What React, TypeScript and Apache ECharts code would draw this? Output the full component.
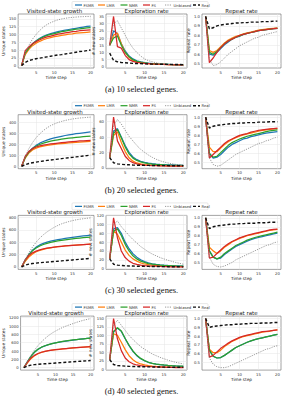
import React, { useEffect, useRef } from "react";
import * as echarts from "echarts";

const steps = [1, 2, 3, 4, 5, 6, 7, 8, 9, 10, 11, 12, 13, 14, 15, 16, 17, 18, 19, 20];
const methods = ["FSMR", "LMR", "NMR", "FS", "Unbiased", "Real"];
const captions = ["(a) 10 selected genes.", "(b) 20 selected genes.", "(c) 30 selected genes.", "(d) 40 selected genes."];
const panelTitles = ["Visited-state growth", "Exploration rate", "Repeat rate"];
const yNames = ["Unique states", "# new states", "Repeat rate"];
const xTicks = [5, 10, 15, 20];

const growthTicks = [
  [0, 25, 50, 75, 100, 125, 150],
  [0, 100, 200, 300, 400],
  [0, 200, 400, 600, 800],
  [0, 200, 400, 600, 800, 1000, 1200],
];
const explTicks = [
  [0, 5, 10, 15, 20, 25, 30, 35],
  [0, 20, 40, 60],
  [0, 20, 40, 60, 80, 100, 120],
  [0, 25, 50, 75, 100, 125, 150],
];
const repeatTicks = [0.5, 0.6, 0.7, 0.8, 0.9, 1.0];

// ---- (a) 10 genes ----
const growth10 = {
  FSMR: [0, 40, 56, 70, 80, 88, 94, 99, 103, 106, 109, 112, 114, 116, 118, 120, 122, 124, 126, 127],
  LMR: [0, 35, 52, 64, 72, 78, 83, 87, 90, 93, 95, 97, 99, 101, 102, 104, 105, 106, 107, 108],
  NMR: [0, 40, 56, 69, 78, 86, 92, 97, 100, 103, 106, 109, 111, 113, 115, 117, 118, 120, 121, 122],
  FS: [0, 48, 60, 70, 77, 83, 88, 92, 95, 98, 101, 103, 105, 107, 109, 110, 112, 113, 114, 115],
  Unbiased: [0, 40, 65, 85, 100, 113, 124, 132, 138, 143, 147, 150, 152, 154, 155, 156, 157, 157.5, 158, 158],
  Real: [0, 10, 16, 19, 22, 24, 26, 28, 30, 32, 34, 35, 37, 39, 41, 43, 45, 46, 48, 50],
};
const expl10 = {
  FSMR: [15, 25, 23, 16, 11, 7.5, 5.5, 4.2, 3.4, 2.9, 2.5, 2.2, 2.0, 1.9, 1.8, 1.7, 1.6, 1.5, 1.4, 1.3],
  LMR: [15, 22, 23.5, 16, 10, 6.5, 4.5, 3.5, 2.9, 2.5, 2.2, 2.0, 1.9, 1.8, 1.7, 1.6, 1.5, 1.4, 1.3, 1.2],
  NMR: [15, 20, 21.5, 15, 10, 7, 5, 3.8, 3.2, 2.7, 2.4, 2.2, 2.0, 1.9, 1.8, 1.7, 1.6, 1.5, 1.4, 1.3],
  FS: [15, 35, 14, 13, 8, 5, 3.8, 3.1, 2.7, 2.4, 2.2, 2.0, 1.9, 1.8, 1.7, 1.6, 1.5, 1.4, 1.3, 1.2],
  Unbiased: [15, 30, 32, 27, 22, 17, 13, 10, 7.5, 5.5, 4.3, 3.5, 2.8, 2.3, 1.9, 1.6, 1.3, 1.1, 1.0, 0.9],
  Real: [9.5, 4.5, 3.5, 3, 2.8, 2.6, 2.4, 2.3, 2.2, 2.1, 2, 1.9, 1.9, 1.8, 1.8, 1.7, 1.7, 1.6, 1.6, 1.5],
};
const repeat10 = {
  FSMR: [1.0, 0.6, 0.59, 0.62, 0.66, 0.7, 0.73, 0.76, 0.78, 0.79, 0.81, 0.82, 0.83, 0.84, 0.85, 0.855, 0.86, 0.865, 0.87, 0.875],
  LMR: [1.0, 0.64, 0.62, 0.64, 0.68, 0.72, 0.75, 0.77, 0.79, 0.8, 0.815, 0.825, 0.835, 0.845, 0.855, 0.86, 0.865, 0.87, 0.875, 0.88],
  NMR: [1.0, 0.62, 0.6, 0.63, 0.67, 0.71, 0.74, 0.76, 0.78, 0.795, 0.81, 0.82, 0.83, 0.84, 0.85, 0.855, 0.86, 0.865, 0.87, 0.875],
  FS: [1.0, 0.51, 0.56, 0.62, 0.67, 0.71, 0.74, 0.76, 0.78, 0.8, 0.81, 0.82, 0.83, 0.84, 0.85, 0.855, 0.86, 0.865, 0.87, 0.875],
  Unbiased: [1.0, 0.55, 0.48, 0.49, 0.52, 0.56, 0.6, 0.63, 0.66, 0.69, 0.71, 0.73, 0.75, 0.77, 0.78, 0.8, 0.81, 0.82, 0.83, 0.84],
  Real: [1.0, 0.87, 0.88, 0.9, 0.91, 0.915, 0.92, 0.925, 0.93, 0.93, 0.935, 0.935, 0.94, 0.94, 0.94, 0.945, 0.945, 0.945, 0.95, 0.95],
};

// ---- (b) 20 genes ----
const growth20 = {
  FSMR: [0, 80, 130, 165, 190, 210, 225, 238, 249, 258, 266, 273, 280, 286, 291, 296, 300, 304, 308, 312],
  LMR: [0, 75, 120, 148, 165, 176, 184, 190, 195, 199, 203, 206, 209, 212, 215, 218, 220, 222, 224, 226],
  NMR: [0, 80, 128, 160, 182, 198, 210, 220, 228, 235, 241, 246, 251, 255, 259, 263, 266, 269, 272, 275],
  FS: [0, 90, 135, 160, 175, 185, 192, 198, 203, 207, 211, 215, 218, 221, 224, 227, 230, 232, 234, 236],
  Unbiased: [0, 90, 160, 215, 260, 295, 325, 350, 370, 385, 398, 408, 417, 424, 430, 435, 439, 442, 445, 447],
  Real: [0, 15, 25, 32, 38, 43, 48, 53, 57, 61, 65, 69, 73, 77, 81, 85, 89, 93, 97, 102],
};
const expl20 = {
  FSMR: [13, 48, 51, 40, 29, 20, 14, 10.5, 8.3, 7, 6, 5.3, 4.8, 4.4, 4.1, 3.8, 3.6, 3.4, 3.2, 3.1],
  LMR: [13, 42, 47, 33, 21, 13, 8.5, 6.2, 4.9, 4.1, 3.6, 3.3, 3.0, 2.8, 2.6, 2.5, 2.4, 2.3, 2.2, 2.1],
  NMR: [13, 45, 50, 39, 27, 18, 12.5, 9.5, 7.5, 6.2, 5.3, 4.7, 4.2, 3.9, 3.6, 3.4, 3.2, 3.0, 2.9, 2.8],
  FS: [13, 66, 35, 25, 15, 9.5, 6.5, 5, 4, 3.4, 3.0, 2.8, 2.6, 2.4, 2.3, 2.2, 2.1, 2.0, 2.0, 1.9],
  Unbiased: [13, 55, 63, 57, 49, 41, 35, 29, 24, 20, 16.5, 13.5, 11, 9, 7.5, 6.2, 5.2, 4.4, 3.8, 3.3],
  Real: [13, 6.5, 5, 4.5, 4, 3.8, 3.5, 3.3, 3.2, 3.0, 3.0, 2.9, 2.8, 2.8, 2.7, 2.7, 2.6, 2.6, 2.5, 2.5],
};
const repeat20 = {
  FSMR: [1.0, 0.6, 0.55, 0.56, 0.59, 0.63, 0.67, 0.7, 0.72, 0.74, 0.76, 0.77, 0.785, 0.795, 0.805, 0.815, 0.825, 0.83, 0.835, 0.84],
  LMR: [1.0, 0.67, 0.62, 0.62, 0.66, 0.7, 0.73, 0.755, 0.775, 0.79, 0.805, 0.815, 0.825, 0.835, 0.845, 0.855, 0.86, 0.865, 0.87, 0.875],
  NMR: [1.0, 0.6, 0.56, 0.57, 0.61, 0.65, 0.69, 0.72, 0.74, 0.76, 0.775, 0.79, 0.8, 0.81, 0.82, 0.83, 0.84, 0.85, 0.855, 0.86],
  FS: [1.0, 0.55, 0.59, 0.63, 0.67, 0.71, 0.74, 0.76, 0.78, 0.8, 0.81, 0.82, 0.835, 0.845, 0.855, 0.86, 0.865, 0.87, 0.875, 0.88],
  Unbiased: [1.0, 0.55, 0.48, 0.46, 0.47, 0.5, 0.53, 0.56, 0.59, 0.61, 0.63, 0.65, 0.67, 0.69, 0.71, 0.72, 0.74, 0.75, 0.77, 0.78],
  Real: [1.0, 0.88, 0.9, 0.91, 0.915, 0.92, 0.925, 0.93, 0.93, 0.935, 0.935, 0.94, 0.94, 0.94, 0.945, 0.945, 0.945, 0.95, 0.95, 0.95],
};

// ---- (c) 30 genes ----
const growth30 = {
  FSMR: [0, 110, 200, 270, 320, 355, 380, 400, 415, 428, 440, 450, 460, 470, 478, 486, 493, 500, 506, 512],
  LMR: [0, 90, 160, 210, 245, 268, 285, 298, 309, 318, 326, 333, 339, 344, 349, 354, 358, 362, 366, 370],
  NMR: [0, 110, 195, 260, 305, 338, 362, 380, 395, 408, 419, 429, 438, 446, 453, 460, 466, 472, 477, 482],
  FS: [0, 115, 185, 228, 255, 275, 290, 302, 312, 320, 327, 333, 338, 343, 348, 352, 356, 360, 364, 368],
  Unbiased: [0, 120, 230, 320, 400, 465, 520, 565, 605, 640, 670, 695, 715, 732, 747, 760, 770, 778, 785, 792],
  Real: [0, 30, 45, 55, 62, 68, 73, 78, 83, 88, 93, 98, 103, 108, 113, 118, 123, 128, 133, 138],
};
const expl30 = {
  FSMR: [22, 90, 93, 80, 60, 45, 34, 26, 20, 16, 13, 11, 9.5, 8.5, 7.8, 7.2, 6.7, 6.3, 6.0, 5.8],
  LMR: [22, 85, 78, 60, 42, 30, 22, 17, 13, 10.5, 9, 8, 7.2, 6.6, 6.1, 5.7, 5.3, 5, 4.8, 4.6],
  NMR: [22, 85, 90, 75, 55, 40, 29, 22, 17, 14, 11.5, 10, 9, 8.2, 7.5, 7, 6.5, 6.1, 5.8, 5.5],
  FS: [22, 115, 70, 40, 25, 17, 12, 9.5, 8, 7, 6.3, 5.8, 5.4, 5.0, 4.7, 4.4, 4.2, 4.0, 3.9, 3.8],
  Unbiased: [22, 100, 108, 95, 85, 75, 66, 58, 50, 44, 38, 33, 29, 25, 22, 19, 16.5, 14, 12, 10],
  Real: [22, 10, 8, 7, 6.5, 6, 5.8, 5.5, 5.3, 5.1, 5, 4.8, 4.7, 4.6, 4.5, 4.4, 4.3, 4.2, 4.1, 4],
};
const repeat30 = {
  FSMR: [1.0, 0.63, 0.56, 0.54, 0.55, 0.59, 0.62, 0.65, 0.68, 0.7, 0.72, 0.74, 0.755, 0.77, 0.78, 0.79, 0.8, 0.81, 0.82, 0.83],
  LMR: [1.0, 0.67, 0.63, 0.6, 0.63, 0.67, 0.7, 0.73, 0.75, 0.77, 0.785, 0.8, 0.81, 0.82, 0.83, 0.84, 0.85, 0.86, 0.865, 0.87],
  NMR: [1.0, 0.63, 0.56, 0.54, 0.56, 0.6, 0.63, 0.66, 0.69, 0.71, 0.73, 0.75, 0.765, 0.78, 0.79, 0.8, 0.81, 0.82, 0.83, 0.84],
  FS: [1.0, 0.55, 0.56, 0.6, 0.64, 0.68, 0.71, 0.735, 0.755, 0.775, 0.79, 0.805, 0.815, 0.825, 0.835, 0.845, 0.855, 0.865, 0.87, 0.875],
  Unbiased: [1.0, 0.56, 0.48, 0.455, 0.45, 0.46, 0.48, 0.5, 0.53, 0.55, 0.57, 0.59, 0.61, 0.63, 0.65, 0.67, 0.69, 0.7, 0.72, 0.73],
  Real: [1.0, 0.88, 0.9, 0.91, 0.915, 0.92, 0.925, 0.93, 0.93, 0.935, 0.935, 0.94, 0.94, 0.94, 0.945, 0.945, 0.945, 0.95, 0.95, 0.95],
};

// ---- (d) 40 genes ----
const growth40 = {
  FSMR: [0, 140, 270, 370, 440, 490, 525, 553, 576, 595, 612, 627, 640, 652, 663, 673, 683, 692, 701, 710],
  LMR: [0, 115, 215, 285, 335, 368, 391, 407, 420, 431, 441, 450, 458, 466, 473, 480, 486, 492, 498, 504],
  NMR: [0, 140, 270, 372, 442, 492, 527, 555, 578, 597, 614, 629, 642, 654, 665, 675, 685, 694, 703, 712],
  FS: [0, 130, 230, 295, 340, 370, 392, 408, 421, 432, 442, 451, 459, 467, 474, 481, 487, 493, 499, 505],
  Unbiased: [0, 150, 290, 420, 530, 620, 700, 770, 830, 880, 925, 965, 1000, 1030, 1060, 1090, 1115, 1140, 1160, 1180],
  Real: [0, 40, 60, 72, 80, 87, 93, 99, 105, 111, 117, 123, 129, 135, 141, 147, 153, 159, 165, 171],
};
const expl40 = {
  FSMR: [28, 110, 122, 112, 90, 70, 53, 40, 31, 25, 20, 17, 15, 13.5, 12.3, 11.3, 10.5, 9.8, 9.2, 8.7],
  LMR: [28, 105, 100, 80, 58, 40, 28, 20, 15.5, 12.5, 10.5, 9.2, 8.2, 7.5, 6.9, 6.4, 6.0, 5.7, 5.4, 5.1],
  NMR: [28, 112, 123, 113, 91, 71, 54, 41, 32, 25.5, 20.5, 17.5, 15.3, 13.7, 12.5, 11.5, 10.7, 10, 9.4, 8.9],
  FS: [28, 150, 90, 55, 33, 22, 16, 12.5, 10.5, 9, 8, 7.3, 6.7, 6.3, 5.9, 5.5, 5.2, 5.0, 4.8, 4.6],
  Unbiased: [28, 130, 145, 130, 115, 100, 88, 77, 67, 59, 52, 45, 40, 35, 31, 27, 23.5, 20.5, 18, 15.5],
  Real: [28, 14, 11, 10, 9, 8.5, 8, 7.7, 7.4, 7.1, 6.9, 6.7, 6.5, 6.3, 6.1, 6, 5.9, 5.8, 5.7, 5.6],
};
const repeat40 = {
  FSMR: [1.0, 0.64, 0.57, 0.55, 0.555, 0.58, 0.61, 0.64, 0.67, 0.69, 0.71, 0.73, 0.745, 0.76, 0.77, 0.78, 0.79, 0.8, 0.81, 0.82],
  LMR: [1.0, 0.65, 0.61, 0.61, 0.64, 0.68, 0.71, 0.74, 0.76, 0.78, 0.795, 0.805, 0.815, 0.825, 0.835, 0.845, 0.85, 0.855, 0.865, 0.87],
  NMR: [1.0, 0.64, 0.57, 0.55, 0.555, 0.58, 0.61, 0.64, 0.67, 0.69, 0.71, 0.73, 0.745, 0.76, 0.77, 0.78, 0.79, 0.8, 0.81, 0.82],
  FS: [1.0, 0.56, 0.58, 0.62, 0.66, 0.69, 0.72, 0.745, 0.765, 0.785, 0.8, 0.81, 0.82, 0.83, 0.84, 0.85, 0.855, 0.86, 0.865, 0.87],
  Unbiased: [1.0, 0.55, 0.48, 0.45, 0.44, 0.44, 0.45, 0.47, 0.49, 0.51, 0.53, 0.55, 0.57, 0.59, 0.61, 0.63, 0.65, 0.66, 0.68, 0.69],
  Real: [1.0, 0.9, 0.91, 0.915, 0.92, 0.925, 0.93, 0.93, 0.935, 0.935, 0.94, 0.94, 0.945, 0.945, 0.945, 0.95, 0.95, 0.95, 0.955, 0.955],
};

const panels: Record<string, number[]>[][] = [
  [growth10, expl10, repeat10],
  [growth20, expl20, repeat20],
  [growth30, expl30, repeat30],
  [growth40, expl40, repeat40],
];

const colors: Record<string, string> = {
  FSMR: "#1f77b4",
  LMR: "#ff7f0e",
  NMR: "#2ca02c",
  FS: "#d62728",
  Unbiased: "#7f7f7f",
  Real: "#111111",
};

const ROW_H = 100.7;
const GRID_TOP = 14;
const GRID_H = 54;
const gridLeft = [
  [15, 106, 202],
  [16, 106, 202],
  [16, 106, 202],
  [18, 106, 202],
];
const gridRight = [94, 187, 281];
const FONT = "DejaVu Sans";
// legend layout (icon start x for each legend entry)
const legendIconX = [75, 98, 120.5, 143, 165, 193];
const LEGEND_BOX = { x: 72, w: 136, y: 1.5, h: 7 };

function dashFor(m: string): number[] | null {
  if (m === "Unbiased") return [1.2, 1.2];
  if (m === "Real") return [3, 2];
  return null;
}
function widthFor(m: string) {
  if (m === "Unbiased") return 0.8;
  if (m === "Real") return 1.4;
  return 1.25;
}

export default function App() {
  const ref = useRef<HTMLDivElement>(null);
  useEffect(() => {
    if (!ref.current) return;
    const chart = echarts.init(ref.current, undefined, { renderer: "svg" });
    const grid: any[] = [];
    const xAxis: any[] = [];
    const yAxis: any[] = [];
    const series: any[] = [];
    const graphic: any[] = [];

    for (let r = 0; r < 4; r++) {
      const off = r * ROW_H;
      // legend (drawn as graphic)
      graphic.push({
        type: "rect",
        shape: { x: LEGEND_BOX.x, y: off + LEGEND_BOX.y, width: LEGEND_BOX.w, height: LEGEND_BOX.h, r: 1 },
        style: { fill: "#fff", stroke: "#d0d0d0", lineWidth: 0.5 },
        z: 10,
      });
      methods.forEach((m, i) => {
        const x0 = legendIconX[i];
        const dash = dashFor(m);
        graphic.push({
          type: "line",
          shape: { x1: x0, y1: off + 5, x2: x0 + 7, y2: off + 5 },
          style: { stroke: colors[m], lineWidth: widthFor(m), lineDash: dash || undefined },
          z: 11,
        });
        graphic.push({
          type: "text",
          x: x0 + 8.5,
          y: off + 5,
          style: { text: m, fontSize: 3.8, fontFamily: FONT, fill: "#333", align: "left", verticalAlign: "middle" },
          z: 11,
        });
      });
      graphic.push({
        type: "text",
        x: 141.5,
        y: off + 89,
        style: {
          text: captions[r],
          fontSize: 8.5,
          fontFamily: "Liberation Serif",
          fill: "#111",
          align: "center",
          verticalAlign: "middle",
        },
      });
      for (let p = 0; p < 3; p++) {
        const g = r * 3 + p;
        const left = gridLeft[r][p];
        const width = gridRight[p] - left;
        grid.push({
          left,
          top: off + GRID_TOP,
          width,
          height: GRID_H,
          show: true,
          borderColor: "#666",
          borderWidth: 0.6,
          backgroundColor: "#fff",
        });
        graphic.push({
          type: "text",
          x: left + width / 2,
          y: off + GRID_TOP - 3,
          style: {
            text: panelTitles[p],
            fontSize: 5.5,
            fontFamily: FONT,
            fill: "#222",
            align: "center",
            verticalAlign: "middle",
          },
        });
        const data = panels[r][p];
        let lo = Infinity;
        let hi = -Infinity;
        methods.forEach((m) => data[m].forEach((v) => { lo = Math.min(lo, v); hi = Math.max(hi, v); }));
        const pad = (hi - lo) * 0.05;
        const ticks = p === 0 ? growthTicks[r] : p === 1 ? explTicks[r] : repeatTicks;
        xAxis.push({
          type: "value",
          gridIndex: g,
          min: 0.05,
          max: 20.95,
          axisLine: { show: false },
          axisTick: { show: false, customValues: xTicks },
          axisLabel: { customValues: xTicks, fontSize: 3.8, margin: 2, color: "#333", fontFamily: FONT },
          splitLine: { show: true, lineStyle: { color: "#e4e4e4", width: 0.5 } },
          name: "Time step",
          nameLocation: "middle",
          nameGap: 7.5,
          nameTextStyle: { fontSize: 4.3, color: "#222", fontFamily: FONT },
        });
        yAxis.push({
          type: "value",
          gridIndex: g,
          min: lo - pad,
          max: hi + pad,
          axisLine: { show: false },
          axisTick: { show: false, customValues: ticks },
          axisLabel: {
            customValues: ticks,
            fontSize: 3.8,
            margin: 2,
            color: "#333",
            fontFamily: FONT,
            formatter: (v: number) => (p === 2 ? v.toFixed(1) : String(Math.round(v))),
          },
          splitLine: { show: true, lineStyle: { color: "#e4e4e4", width: 0.5 } },
          name: yNames[p],
          nameLocation: "middle",
          nameRotate: 90,
          nameGap: p === 0 ? (r === 3 ? 11 : r === 0 ? 9 : 9.5) : 8,
          nameTextStyle: { fontSize: 4.3, color: "#222", fontFamily: FONT },
        });
        methods.forEach((m) => {
          const dash = dashFor(m);
          series.push({
            type: "line",
            name: m,
            xAxisIndex: g,
            yAxisIndex: g,
            data: steps.map((t, i) => [t, data[m][i]]),
            showSymbol: false,
            symbol: "none",
            lineStyle: { color: colors[m], width: widthFor(m), type: dash || "solid" },
            itemStyle: { color: colors[m] },
            z: m === "Real" ? 4 : m === "Unbiased" ? 3 : 2,
          });
        });
      }
    }

    chart.setOption({
      animation: false,
      backgroundColor: "#ffffff",
      textStyle: { fontFamily: FONT },
      grid,
      xAxis,
      yAxis,
      series,
      graphic,
    });
    return () => chart.dispose();
  }, []);
  return (
    <div
      ref={ref}
      style={{ position: "fixed", left: 0, top: 0, width: 283, height: 400 }}
    />
  );
}
